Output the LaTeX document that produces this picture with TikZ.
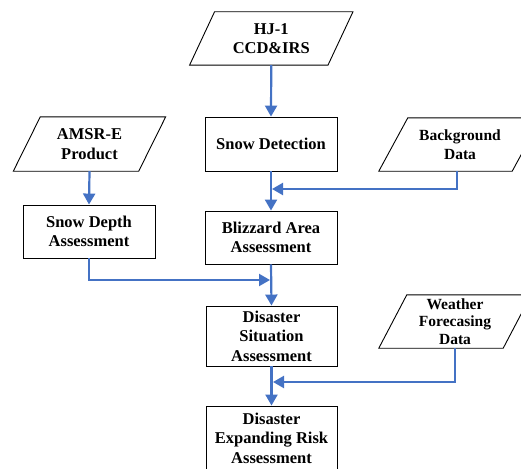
\documentclass[tikz,border=0pt]{standalone}
\usepackage{fontspec}
\setmainfont{Liberation Serif}
\usetikzlibrary{arrows.meta}
\definecolor{flowblue}{HTML}{4472C4}
\newcommand{\paraoutline}[2]{%
  \draw[black,line width=0.9pt] ([xshift=#2]#1.north west) -- ([xshift=#2]#1.north east)
    -- ([xshift=-#2]#1.south east) -- ([xshift=-#2]#1.south west) -- cycle;}
\begin{document}
\begin{tikzpicture}[x=1pt,y=-1pt,
  txt/.style={font=\fontsize{16.5}{19.5}\selectfont\bfseries, align=center, inner sep=0pt},
  boxnode/.style={txt, draw=black, line width=0.9pt},
  paranode/.style={txt},
  arr/.style={draw=flowblue, line width=2.2pt, -{Triangle[width=12pt,length=11pt]}},
  ln/.style={draw=flowblue, line width=2.2pt}]
\useasboundingbox (0,0) rectangle (521,468);
\clip (0,0) rectangle (521,468);
% inputs (parallelograms)
\node[paranode, minimum width=138pt, minimum height=53pt] (hj) at (271.25,38.5) {HJ-1\\CCD\&IRS};
\paraoutline{hj}{12.5}
\node[paranode, minimum width=125pt, minimum height=54pt] (amsr) at (89.5,144) {AMSR-E\\Product};
\paraoutline{amsr}{13.5}
\node[paranode, minimum width=133pt, minimum height=53pt, font=\fontsize{15.5}{19}\selectfont\bfseries] (bg) at (460,144.5) {Background\\Data};
\paraoutline{bg}{14.5}
\node[paranode, minimum width=124pt, minimum height=53pt, font=\fontsize{15.5}{17.5}\selectfont\bfseries] (wf) at (455,321.5) {Weather\\Forecasing\\Data};
\paraoutline{wf}{14}
% process boxes
\node[boxnode, minimum width=132pt, minimum height=54pt] (sd) at (271,144) {Snow Detection};
\node[boxnode, minimum width=132pt, minimum height=53pt] (sda) at (89,231.5) {Snow Depth\\Assessment};
\node[boxnode, minimum width=132pt, minimum height=53pt] (ba) at (271,237.5) {Blizzard Area\\Assessment};
\node[boxnode, minimum width=131pt, minimum height=60pt] (ds) at (271.5,336) {Disaster\\Situation\\Assessment};
\node[boxnode, minimum width=131pt, minimum height=64pt] (de) at (271.5,438) {Disaster\\Expanding Risk\\Assessment};
% junction points
\coordinate (jb) at (272,189);
\coordinate (jd) at (270,280);
\coordinate (jw) at (273,382);
% connectors
\draw[arr] (hj.south) -- (sd.north);
\draw[arr] (sd.south) -- (ba.north);
\draw[arr] ([xshift=-3pt]bg.south) |- (jb);
\draw[arr] (amsr.south) -- (sda.north);
\draw[arr] (sda.south) |- (jd);
\draw[arr] (ba.south) -- (ds.north);
\draw[arr] (wf.south) |- (jw);
\draw[arr] (ds.south) -- (de.north);
\end{tikzpicture}
\end{document}
